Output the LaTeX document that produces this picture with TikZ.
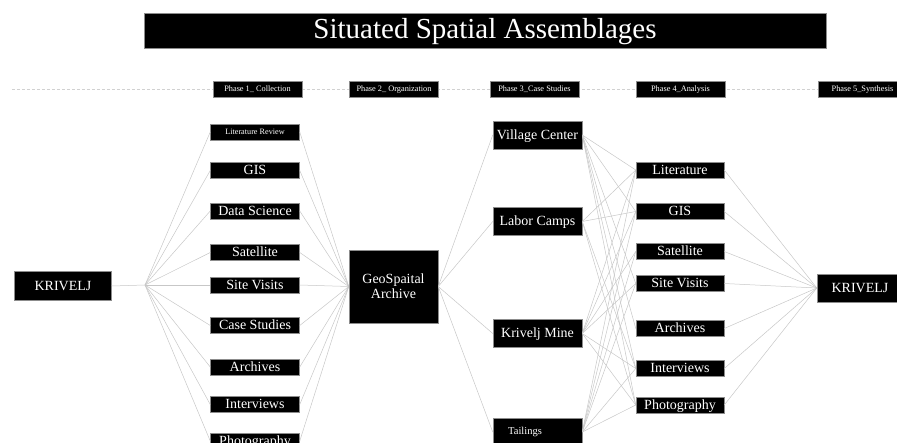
\documentclass[tikz,border=0pt]{standalone}
\usepackage{fontspec}
\setmainfont{Liberation Serif}
\begin{document}
\begin{tikzpicture}[x=1pt,y=-1pt,
  box/.style={fill=black, draw=black!45, line width=0.5pt, text=white, inner sep=0pt,
    font=\fontsize{14}{15}\selectfont, text height=11pt, text depth=2.6pt},
  link/.style={draw=black!22, line width=0.5pt},
  phasebox/.style={box, minimum width=89, minimum height=16, font=\fontsize{8.3}{8.3}\selectfont, text height=6.6pt, text depth=1.4pt},
  nbox/.style={box, minimum width=89, minimum height=16},
  cbox/.style={box, minimum width=89, minimum height=28}]
\useasboundingbox (0,0) rectangle (897,443);

% title
\node[box, minimum width=682, minimum height=35, font=\fontsize{29}{30}\selectfont, text height=22pt, text depth=5.5pt] (title) at (485,30.5) {Situated Spatial Assemblages};

% phase row
\draw[draw=black!18, line width=0.5pt, dash pattern=on 3pt off 2pt] (12,89) -- (897,89);
\node[phasebox] (ph1) at (257.5,89) {Phase 1\_ Collection};
\node[phasebox] (ph2) at (394,89) {Phase 2\_ Organization};
\node[phasebox] (ph3) at (534.5,89) {Phase 3\_Case Studies};
\node[phasebox] (ph4) at (680.5,89) {Phase 4\_Analysis};
\node[phasebox] (ph5) at (862.5,89) {Phase 5\_Synthesis};

% left source
\node[cbox, minimum width=97, minimum height=29] (kl) at (63,286) {KRIVELJ};
\coordinate (hub) at (145,285);

% phase 1
\node[nbox, font=\fontsize{8.2}{8.2}\selectfont, text height=6.5pt, text depth=1.4pt] (a1) at (255,132) {Literature Review};
\node[nbox] (a2) at (255,170.5) {GIS};
\node[nbox] (a3) at (255,211) {Data Science};
\node[nbox] (a4) at (255,252.5) {Satellite};
\node[nbox] (a5) at (255,285) {Site Visits};
\node[nbox] (a6) at (255,325.5) {Case Studies};
\node[nbox] (a7) at (255,367) {Archives};
\node[nbox] (a8) at (255,404.5) {Interviews};
\node[nbox] (a9) at (255,441) {Photography};

% phase 2
\node[box, minimum width=89, minimum height=73, align=center, text height=, text depth=] (geo) at (393.5,286.5) {GeoSpaital\\Archive};

% phase 3
\node[cbox] (c1) at (537.5,135) {Village Center};
\node[cbox] (c2) at (537.5,221.5) {Labor Camps};
\node[cbox] (c3) at (537.5,333.5) {Krivelj Mine};
\node[cbox, font=\fontsize{10.5}{11}\selectfont, text height=8pt, text depth=2pt] (c4) at (537.5,432) {Tailings\hspace*{25pt}};

% phase 4
\node[nbox, minimum width=88] (d1) at (680,170) {Literature};
\node[nbox, minimum width=88] (d2) at (680,211.5) {GIS};
\node[nbox, minimum width=88] (d3) at (680,251.5) {Satellite};
\node[nbox, minimum width=88] (d4) at (680,283.5) {Site Visits};
\node[nbox, minimum width=88] (d5) at (680,328.5) {Archives};
\node[nbox, minimum width=88] (d6) at (680,368.5) {Interviews};
\node[nbox, minimum width=88] (d7) at (680,405) {Photography};

% right target
\node[cbox, minimum width=86] (kr) at (860,288) {KRIVELJ};

% connectors
\draw[link] (kl.east) -- (hub);
\foreach \i in {1,...,9} {
  \draw[link] (hub) -- (a\i.west);
  \draw[link] (a\i.east) -- (geo.west);
}
\foreach \i in {1,...,4} {
  \draw[link] (geo.east) -- (c\i.west);
}
\foreach \a/\b in {c1/d1,c1/d2,c1/d4,c1/d5,c1/d6,c1/d7,
                   c2/d1,c2/d2,c2/d6,c2/d7,
                   c3/d1,c3/d2,c3/d3,c3/d4,c3/d6,c3/d7,
                   c4/d1,c4/d2,c4/d3,c4/d4,c4/d6,c4/d7} {
  \draw[link] (\a.east) -- (\b.west);
}
\foreach \i in {1,...,7} {
  \draw[link] (d\i.east) -- (kr.west);
}
\end{tikzpicture}
\end{document}
